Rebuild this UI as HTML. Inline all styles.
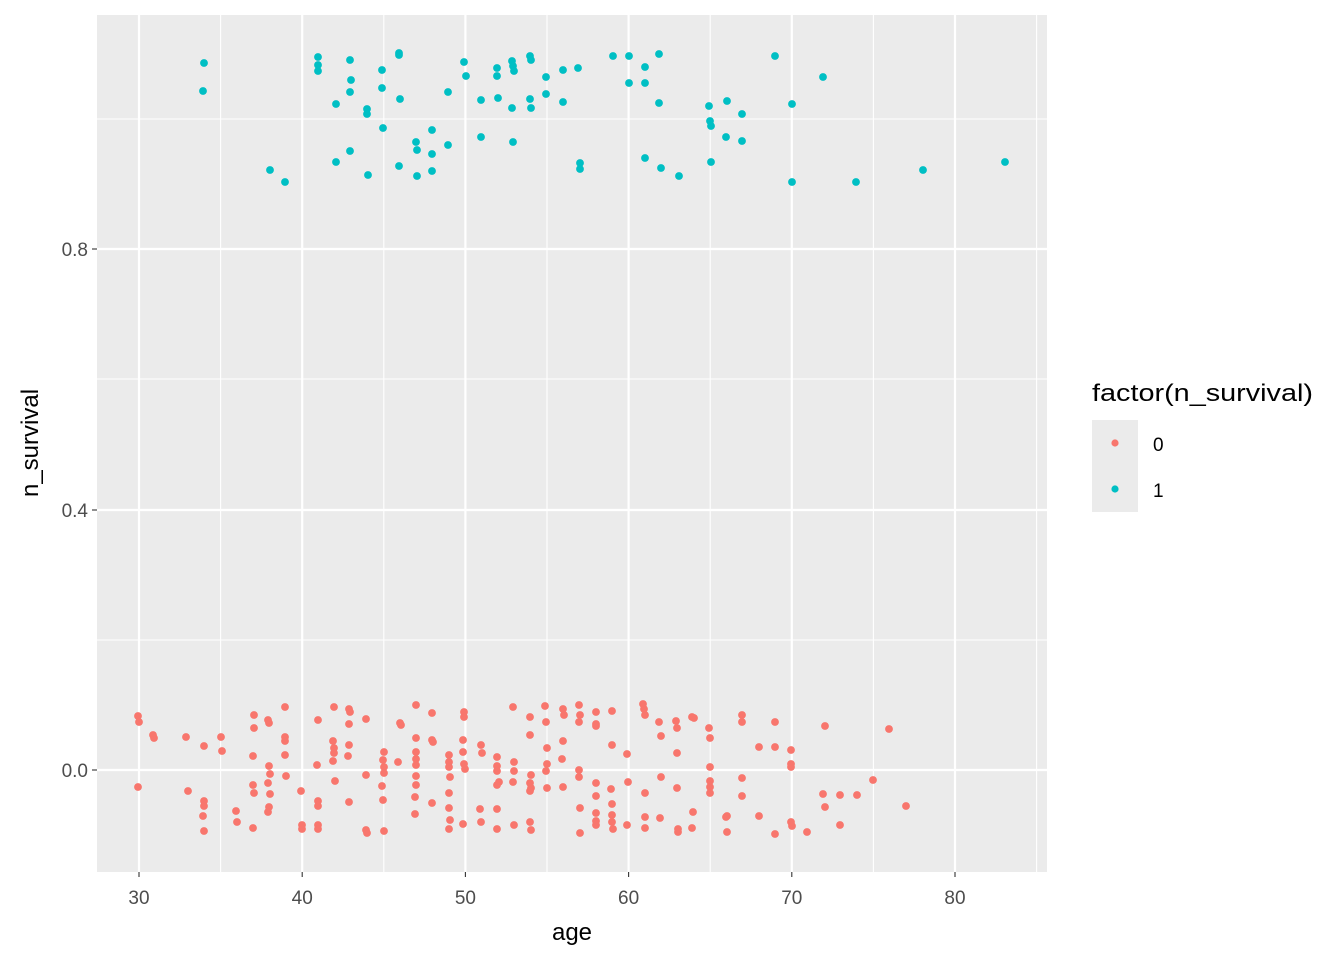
<!DOCTYPE html>
<html><head><meta charset="utf-8"><style>body{margin:0;background:#fff}svg{display:block}text{font-family:"Liberation Sans",Arial,sans-serif}</style></head><body>
<svg width="1344" height="960" xmlns="http://www.w3.org/2000/svg">
<rect x="97" y="15" width="950" height="857" fill="#EBEBEB"/>
<g stroke="#fff" stroke-width="1.1">
<line x1="97" x2="1047" y1="640" y2="640"/><line x1="97" x2="1047" y1="379" y2="379"/><line x1="97" x2="1047" y1="119" y2="119"/>
<line y1="15" y2="872" x1="220.6" x2="220.6"/><line y1="15" y2="872" x1="383.8" x2="383.8"/><line y1="15" y2="872" x1="547" x2="547"/><line y1="15" y2="872" x1="710.2" x2="710.2"/><line y1="15" y2="872" x1="873.4" x2="873.4"/><line y1="15" y2="872" x1="1036.6" x2="1036.6"/>
</g>
<g stroke="#fff" stroke-width="2.2">
<line x1="97" x2="1047" y1="770" y2="770"/><line x1="97" x2="1047" y1="510" y2="510"/><line x1="97" x2="1047" y1="249" y2="249"/>
<line y1="15" y2="872" x1="139" x2="139"/><line y1="15" y2="872" x1="302.2" x2="302.2"/><line y1="15" y2="872" x1="465.4" x2="465.4"/><line y1="15" y2="872" x1="628.6" x2="628.6"/><line y1="15" y2="872" x1="791.8" x2="791.8"/><line y1="15" y2="872" x1="955" x2="955"/>
</g>
<g id="pts"></g>
<g stroke="#333" stroke-width="1.1">
<line x1="92" x2="97" y1="770" y2="770"/><line x1="92" x2="97" y1="510" y2="510"/><line x1="92" x2="97" y1="249" y2="249"/>
<line y1="872" y2="877" x1="139" x2="139"/><line y1="872" y2="877" x1="302.2" x2="302.2"/><line y1="872" y2="877" x1="465.4" x2="465.4"/><line y1="872" y2="877" x1="628.6" x2="628.6"/><line y1="872" y2="877" x1="791.8" x2="791.8"/><line y1="872" y2="877" x1="955" x2="955"/>
</g>
<g fill="#4D4D4D" font-size="19" text-anchor="end">
<text x="88" y="777">0.0</text><text x="88" y="517">0.4</text><text x="88" y="256">0.8</text>
</g>
<g fill="#4D4D4D" font-size="19" text-anchor="middle">
<text x="139" y="904">30</text><text x="302.2" y="904">40</text><text x="465.4" y="904">50</text><text x="628.6" y="904">60</text><text x="791.8" y="904">70</text><text x="955" y="904">80</text>
</g>
<text x="572" y="940" font-size="24" text-anchor="middle">age</text>
<text transform="translate(38,443) rotate(-90)" font-size="24" text-anchor="middle">n_survival</text>
<text x="1092" y="401" font-size="24" textLength="221" lengthAdjust="spacingAndGlyphs">factor(n_survival)</text>
<rect x="1092" y="420" width="46" height="46" fill="#EBEBEB"/><rect x="1092" y="466" width="46" height="46" fill="#EBEBEB"/>
<circle cx="1115" cy="443" r="3.6" fill="#F8766D"/><circle cx="1115" cy="489" r="3.6" fill="#00BFC4"/>
<text x="1153" y="451" font-size="19">0</text><text x="1153" y="497" font-size="19">1</text>
</svg>
<script>
var t=[[204,63],[203,91],[270,170],[285,182],[318,57],[318,65],[318,71],[336,104],[336,162],[350,60],[351,80],[350,92],[350,151],[367,109],[367,114],[368,175],[382,70],[382,88],[383,128],[399,53],[399,55],[400,99],[399,166],[416,142],[417,150],[417,176],[432,130],[432,154],[432,171],[448,92],[448,145],[464,62],[466,76],[481,100],[481,137],[497,68],[497,76],[498,98],[512,61],[513,66],[514,71],[512,108],[513,142],[530,56],[531,60],[530,99],[531,108],[546,77],[546,94],[563,70],[563,102],[578,68],[580,163],[580,169],[613,56],[629,56],[629,83],[645,67],[645,83],[645,158],[659,54],[659,103],[661,168],[679,176],[709,106],[710,121],[711,126],[711,162],[727,101],[726,137],[742,114],[742,141],[775,56],[792,104],[792,182],[823,77],[856,182],[923,170],[1005,162]];
var r=[[138,716],[139,722],[138,787],[153,735],[154,738],[186,737],[188,791],[204,746],[204,801],[204,806],[203,816],[204,831],[221,737],[222,751],[236,811],[237,822],[254,715],[254,728],[253,756],[253,785],[254,793],[253,828],[268,720],[269,723],[269,766],[270,774],[268,783],[270,794],[269,807],[268,812],[285,707],[285,737],[285,741],[285,755],[286,776],[301,791],[302,825],[302,829],[318,720],[317,765],[318,801],[318,806],[318,825],[318,829],[334,707],[333,741],[334,748],[334,753],[333,761],[335,781],[349,709],[350,712],[349,724],[349,745],[348,756],[349,802],[366,719],[366,775],[366,830],[367,833],[384,752],[383,760],[384,767],[384,773],[382,786],[383,800],[384,831],[400,723],[401,725],[398,762],[416,705],[416,738],[416,752],[416,759],[416,765],[416,776],[416,785],[415,797],[415,814],[432,713],[432,740],[433,742],[432,803],[449,755],[449,762],[449,767],[450,777],[449,793],[449,808],[450,820],[449,829],[464,712],[464,717],[463,740],[463,752],[464,764],[465,769],[463,824],[481,745],[482,753],[480,809],[481,822],[497,757],[497,766],[497,771],[499,782],[497,785],[497,809],[497,829],[513,707],[514,762],[514,771],[513,782],[514,825],[530,717],[530,735],[531,775],[530,783],[531,788],[530,791],[530,822],[531,830],[545,706],[546,722],[547,748],[547,764],[546,771],[547,788],[563,709],[564,715],[563,741],[562,759],[563,787],[579,705],[580,715],[579,722],[579,770],[579,777],[580,808],[580,833],[596,712],[596,724],[596,726],[596,783],[596,796],[596,813],[596,821],[596,825],[612,711],[612,745],[611,789],[612,804],[612,815],[612,822],[613,829],[627,754],[628,782],[627,825],[643,704],[644,709],[645,715],[645,793],[645,817],[645,828],[659,722],[661,736],[661,777],[660,818],[676,721],[677,728],[677,753],[677,788],[678,829],[678,832],[692,717],[694,718],[693,812],[692,828],[709,728],[710,738],[710,767],[710,781],[710,787],[710,793],[726,817],[727,832],[727,816],[742,715],[742,722],[742,778],[742,796],[759,747],[759,816],[775,722],[775,747],[775,834],[791,750],[791,764],[791,767],[791,822],[792,826],[807,832],[823,794],[825,726],[825,807],[840,795],[840,825],[857,795],[873,780],[889,729],[906,806]];
var g=document.getElementById('pts'),s='';
r.forEach(function(p){s+='<circle cx="'+p[0]+'" cy="'+p[1]+'" r="3.9" fill="#F8766D"/>';});
t.forEach(function(p){s+='<circle cx="'+p[0]+'" cy="'+p[1]+'" r="3.9" fill="#00BFC4"/>';});
g.innerHTML=s;
</script>
</body></html>
